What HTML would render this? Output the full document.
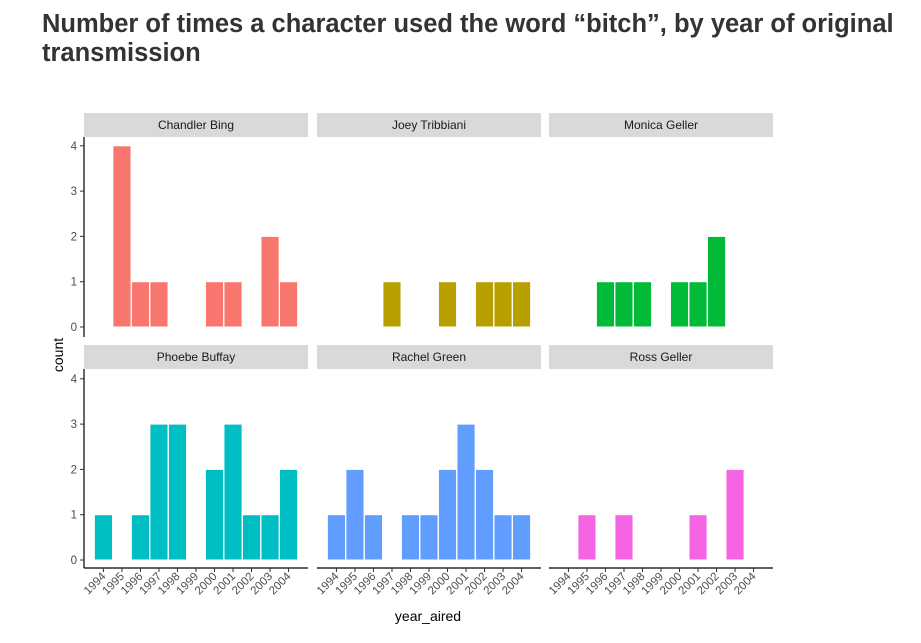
<!DOCTYPE html>
<html><head><meta charset="utf-8"><style>
body{margin:0;background:#fff;font-family:"Liberation Sans",sans-serif}
</style></head><body>
<svg width="921" height="638" xmlns="http://www.w3.org/2000/svg" font-family="Liberation Sans, sans-serif" id="chart">
<text x="42" y="32" font-size="25.5" font-weight="bold" fill="#333">Number of times a character used the word “bitch”, by year of original</text>
<text x="42" y="61" font-size="25.5" font-weight="bold" fill="#333">transmission</text>
<text x="428" y="621" font-size="14" text-anchor="middle" fill="#000">year_aired</text>
<text transform="translate(63,355) rotate(-90)" font-size="14" text-anchor="middle" fill="#000">count</text>
<g id="g"></g>
</svg>
<script>
const years=[1994,1995,1996,1997,1998,1999,2000,2001,2002,2003,2004];
const names=["Chandler Bing","Joey Tribbiani","Monica Geller","Phoebe Buffay","Rachel Green","Ross Geller"];
const colors=["#F8766D","#B79F00","#00BA38","#00BFC4","#619CFF","#F564E3"];
const chandler=[0,4,1,1,0,0,1,1,0,2,1];
const joey=[0,0,0,1,0,0,1,0,1,1,1];
const monica=[0,0,1,1,1,0,1,1,2,0,0];
const phoebe=[1,0,1,3,3,0,2,3,1,1,2];
const rachel=[1,2,1,0,1,1,2,3,2,1,1];
const ross=[0,1,0,1,0,0,0,1,0,2,0];
const yTicks=[0,1,2,3,4];
const series=[chandler,joey,monica,phoebe,rachel,ross];
const NS="http://www.w3.org/2000/svg";
const g=document.getElementById('g');
function mk(t,a,p){const e=document.createElementNS(NS,t);for(const k in a)e.setAttribute(k,a[k]);(p||g).appendChild(e);return e;}
const colX=[84,317,549], W=224;
const rows=[{strip:113,top:137,zero:327,bot:337},{strip:345,top:369,zero:560,bot:568}];
const unit=45.3;
const step=W/12.1;
function xs(c,i){return colX[c]+W/2+(i-5)*step;}
function ys(r,v){return rows[r].zero-v*unit;}
series.forEach((s,k)=>{
  const c=k%3, r=Math.floor(k/3), R=rows[r];
  const st=mk('rect',{x:colX[c],y:R.strip,width:W,height:24,fill:'#d9d9d9'});
  
  
  const tl=mk('text',{x:colX[c]+W/2,y:R.strip+16,'font-size':12,'text-anchor':'middle',fill:'#1a1a1a'});
  tl.textContent=names[k];
  
  
  s.forEach((v,i)=>{
    if(!v)return;
    const b=mk('rect',{x:xs(c,i)-step*0.49,y:ys(r,v),width:step*0.98,height:v*unit,fill:colors[k],stroke:'#fff','stroke-width':1});
    
    
  });
  if(c===0){
    const ax=mk('line',{x1:84,x2:84,y1:R.top,y2:R.bot,stroke:'#000','stroke-width':1.2});
    
    
    yTicks.forEach(t=>{
      const y=ys(r,t);
      mk('line',{x1:80,x2:84,y1:y,y2:y,stroke:'#333'});
      const l=mk('text',{x:77,y:y+4,'font-size':11.5,'text-anchor':'end',fill:'#4d4d4d'});
      l.textContent=t;
      
      
    });
  }
  if(r===1){
    const ax=mk('line',{x1:colX[c],x2:colX[c]+W,y1:R.bot,y2:R.bot,stroke:'#000','stroke-width':1.2});
    
    
    years.forEach((yr,i)=>{
      const x=xs(c,i);
      mk('line',{x1:x,x2:x,y1:R.bot,y2:R.bot+4,stroke:'#333'});
      const l=mk('text',{transform:`translate(${x+3},${R.bot+9}) rotate(-45)`,'font-size':11.5,'text-anchor':'end',fill:'#4d4d4d'});
      l.textContent=yr;
      
      
    });
  }
});
</script>
</body></html>
